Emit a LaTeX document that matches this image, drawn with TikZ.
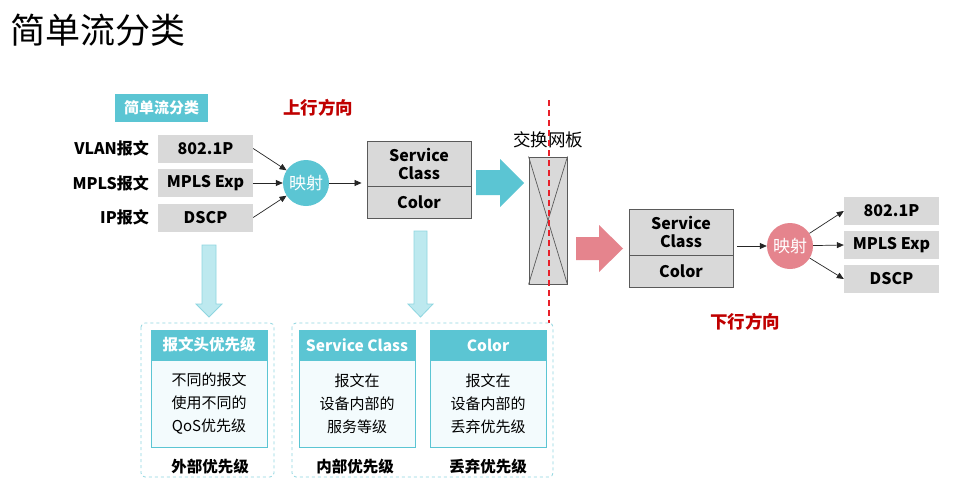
\documentclass[tikz,border=0pt]{standalone}
\usepackage{fontspec}
\setmainfont{Noto Sans CJK SC}
\usetikzlibrary{arrows.meta}

\definecolor{tealA}{HTML}{5BC5D3}
\definecolor{tealLight}{HTML}{BDE9EF}
\definecolor{tealEdge}{HTML}{8ED6E0}
\definecolor{panelBg}{HTML}{F3FBFD}
\definecolor{grayFill}{HTML}{D9D9D9}
\definecolor{grayEdge}{HTML}{5A5A5A}
\definecolor{redText}{HTML}{C00000}
\definecolor{redLine}{HTML}{E8202A}
\definecolor{pinkA}{HTML}{E5848D}

\tikzset{
  fieldbox/.style={fill=grayFill, minimum width=95pt, minimum height=28pt, inner sep=0pt,
    font=\fontsize{16}{18}\selectfont\bfseries},
  pktlabel/.style={anchor=east, inner sep=0pt, font=\fontsize{16}{18}\selectfont\bfseries},
  mapper/.style={circle, minimum size=46pt, inner sep=0pt, text=white,
    font=\fontsize{17}{20}\selectfont},
  classcell/.style={draw=grayEdge, line width=0.9pt, fill=grayFill, minimum width=104pt,
    inner sep=0pt, align=center, font=\fontsize{16}{18}\selectfont\bfseries},
  conn/.style={-{Triangle[length=7pt,width=6pt]}, line width=0.7pt, draw=black!85},
  dirlabel/.style={text=redText, font=\fontsize{17.5}{20}\selectfont\bfseries},
  group/.style={draw=tealEdge, dashed, line width=0.8pt, rounded corners=4pt},
  panelhead/.style={fill=tealA, draw=tealA, minimum width=116pt, minimum height=30pt, inner sep=0pt,
    text=white, font=\fontsize{15.5}{18}\selectfont\bfseries},
  panelbody/.style={fill=panelBg, draw=tealA, line width=0.6pt, minimum width=116pt, minimum height=87pt,
    inner sep=0pt, align=center, font=\fontsize{15}{23}\selectfont},
  grouplabel/.style={font=\fontsize{15.5}{18}\selectfont\bfseries},
  downarrow/.style={fill=tealLight, draw=tealEdge, line width=0.8pt}
}

\begin{document}
\begin{tikzpicture}[x=1pt,y=-1pt]
\useasboundingbox[fill=white] (0,0) rectangle (968,490);

% title
\node[anchor=west, inner sep=0pt, font=\fontsize{35}{40}\selectfont] (title) at (10,30) {简单流分类};

% ---------- upstream side ----------
\node[fill=tealA, minimum width=93pt, minimum height=28pt, inner sep=0pt, text=white,
      font=\fontsize{15}{18}\selectfont\bfseries] (tag) at (161.5,108) {简单流分类};
\node[dirlabel] (up) at (318,108) {上行方向};

\node[pktlabel] (l1) at (149,148.5) {VLAN报文};
\node[pktlabel] (l2) at (149,183) {MPLS报文};
\node[pktlabel] (l3) at (149,217) {IP报文};

\node[fieldbox] (f1) at (205.5,148.5) {802.1P};
\node[fieldbox] (f2) at (205.5,183) {MPLS Exp};
\node[fieldbox] (f3) at (205.5,217.5) {DSCP};

\node[mapper, fill=tealA] (m1) at (306,183) {映射};

\draw[conn] (f1.east) -- (m1);
\draw[conn] (f2.east) -- (m1);
\draw[conn] (f3.east) -- (m1);

\node[classcell, minimum height=45pt] (sc1) at (419,163.5) {Service\\Class};
\node[classcell, minimum height=32pt] (co1) at (419,202) {Color};
\coordinate (sc1in) at (sc1.west |- m1);
\draw[conn] (m1) -- ([xshift=-5pt]sc1in);

% cyan block arrow towards the switch fabric
\fill[tealA] (476,170) -- (500,170) -- (500,159) -- (524,183) -- (500,207) -- (500,195) -- (476,195) -- cycle;

% switch fabric
\node[draw=grayEdge, line width=0.9pt, fill=grayFill, minimum width=38pt, minimum height=127pt, inner sep=0pt]
  (sw) at (548,220.5) {};
\draw[grayEdge, line width=0.7pt] (sw.north west) -- (sw.south east) (sw.north east) -- (sw.south west);
\node[font=\fontsize{17.5}{20}\selectfont] (swlabel) at (548,140) {交换网板};

% boundary line
\coordinate (bTop) at (549,100);
\coordinate (bBot) at (549,323);
\draw[redLine, line width=1.5pt, dash pattern=on 6pt off 4pt] (bTop) -- (bBot);

% ---------- downstream side ----------
\fill[pinkA] (576,237) -- (599,237) -- (599,225) -- (623,248.5) -- (599,272) -- (599,260) -- (576,260) -- cycle;

\node[classcell, minimum height=46pt] (sc2) at (681,232) {Service\\Class};
\node[classcell, minimum height=32pt] (co2) at (681,271) {Color};

\node[mapper, fill=pinkA] (m2) at (790,246) {映射};
\coordinate (sc2out) at ([xshift=4pt]sc2.east |- m2);
\draw[conn] (sc2out) -- (m2);

\node[fieldbox] (g1) at (891.5,211) {802.1P};
\node[fieldbox] (g2) at (891.5,245) {MPLS Exp};
\node[fieldbox] (g3) at (891.5,279) {DSCP};

\draw[conn] (m2) -- (g1.west);
\draw[conn] (m2) -- (g2.west);
\draw[conn] (m2) -- (g3.west);

\node[dirlabel] (down) at (745,322) {下行方向};

% ---------- priority explanations ----------
\draw[downarrow] (202,245) -- (216,245) -- (216,304) -- (222,304) -- (209,317) -- (196,304) -- (202,304) -- cycle;
\draw[downarrow] (414,231) -- (427,231) -- (427,304) -- (433,304) -- (420.5,317) -- (408,304) -- (414,304) -- cycle;

\draw[group] (141,323) rectangle (274,477);
\draw[group] (292,323) rectangle (553,477);

\node[panelhead] (h1) at (209,345) {报文头优先级};
\node[panelbody] (b1) at (209,403.5) {不同的报文\\使用不同的\\QoS优先级};
\node[grouplabel] (g1lbl) at (210,467) {外部优先级};

\node[panelhead] (h2) at (357,345) {Service Class};
\node[panelbody] (b2) at (357,403.5) {报文在\\设备内部的\\服务等级};
\node[grouplabel] (g2lbl) at (355,467) {内部优先级};

\node[panelhead] (h3) at (488,345) {Color};
\node[panelbody] (b3) at (488,403.5) {报文在\\设备内部的\\丢弃优先级};
\node[grouplabel] (g3lbl) at (488,467) {丢弃优先级};

\end{tikzpicture}
\end{document}
